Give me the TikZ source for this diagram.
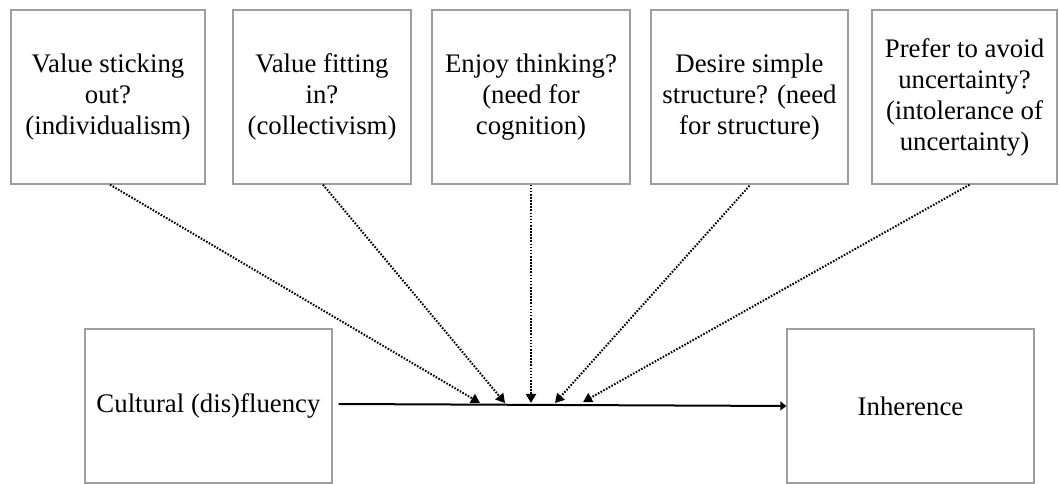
\documentclass[tikz,border=0pt]{standalone}
\usepackage{fontspec}
\setmainfont{Liberation Serif}
\usetikzlibrary{arrows.meta}
\begin{document}
\begin{tikzpicture}[x=1pt,y=1pt,
  box/.style={draw=black!38, line width=1.4pt, inner sep=0pt, align=center,
    font=\fontsize{26.8}{31}\selectfont, minimum height=174pt},
  bigbox/.style={box, minimum width=247pt, minimum height=154pt},
  mod/.style={line width=2pt, dash pattern=on 1.6pt off 1.5pt,
    -{Triangle[length=9pt,width=10pt]}},
  main/.style={line width=2pt, -{Triangle[length=6pt,width=9pt]}}]
\useasboundingbox (0,0) rectangle (1059,484);
\node[box, minimum width=194pt] (b1) at (108,387) {Value sticking\\out?\\(individualism)};
\node[box, minimum width=178pt] (b2) at (322,387) {Value fitting\\in?\\(collectivism)};
\node[box, minimum width=198pt] (b3) at (531,387) {Enjoy thinking?\\(need for\\cognition)};
\node[box, minimum width=197pt] (b4) at (749.5,387) {Desire simple\\structure? (need\\for structure)};
\node[box, minimum width=185pt] (b5) at (964.5,387) {Prefer to avoid\\uncertainty?\\(intolerance of\\uncertainty)};
\node[bigbox] (c) at (208.5,78) {Cultural (dis)fluency};
\node[bigbox] (i) at (910.5,78) {Inherence};
\coordinate (t1) at (480,81);
\coordinate (t2) at (505,81);
\coordinate (t3) at (531,81);
\coordinate (t4) at (555,81);
\coordinate (t5) at (583,82);
\draw[main] ([xshift=6pt,yshift=2pt]c.east) -- (i.west);
\draw[mod] ([xshift=2pt]b1.south) -- (t1);
\draw[mod] ([xshift=1pt]b2.south) -- (t2);
\draw[mod] (b3.south) -- (t3);
\draw[mod] ([yshift=-1pt]b4.south) -- (t4);
\draw[mod] ([xshift=5pt]b5.south) -- (t5);
\end{tikzpicture}
\end{document}
